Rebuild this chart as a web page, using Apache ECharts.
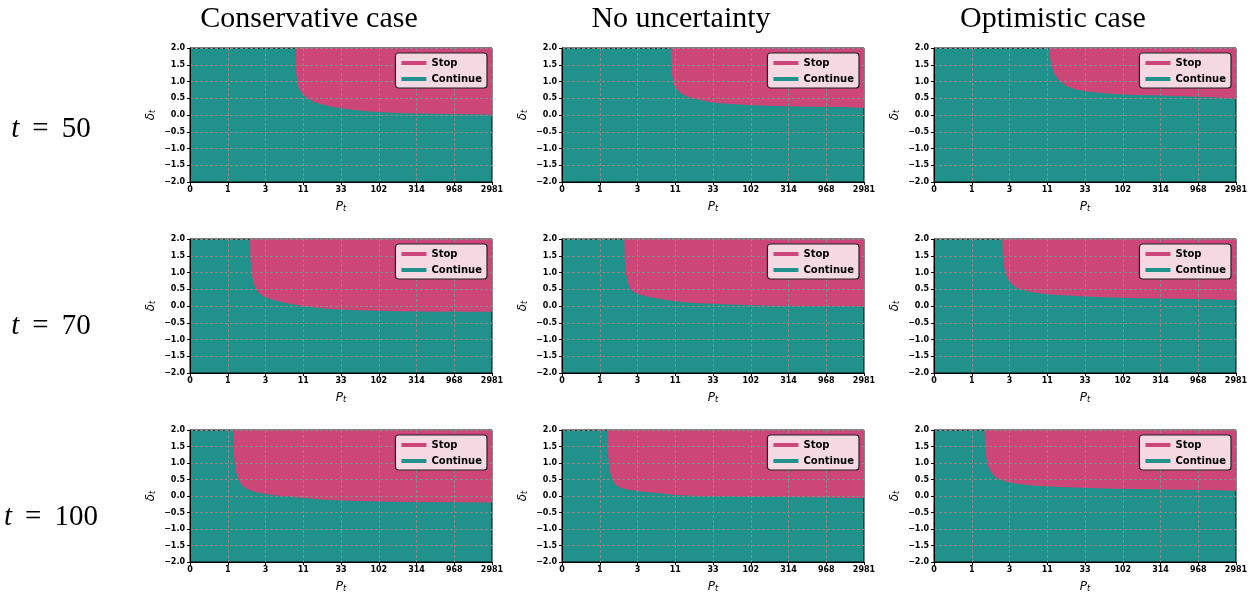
<!DOCTYPE html>
<html>
<head>
<meta charset="utf-8">
<script src="https://cdn.jsdelivr.net/npm/echarts@6/dist/echarts.min.js"></script>
<style>html,body{margin:0;padding:0;background:#fff;}#c{width:1254px;height:594px;}</style>
</head>
<body>
<div id="c"></div>
<script>
// ---- data ----
const xTickLabels = ['0', '1', '3', '11', '33', '102', '314', '968', '2981'];
const columnTitles = ['Conservative case', 'No uncertainty', 'Optimistic case'];
const rowTimes = ['50', '70', '100'];
// stop-region lower boundary [P index, delta] per panel (stop above boundary)
const cons50 = [[2.80,2.0],[2.81,1.3],[2.84,1.0],[2.88,0.82],[2.95,0.68],[3.02,0.58],[3.15,0.47],[3.3,0.38],[3.5,0.31],[3.75,0.25],[4.0,0.2],[4.4,0.14],[4.85,0.1],[5.5,0.06],[6.5,0.04],[7.5,0.02],[8,0.01]];
const unc50  = [[2.88,2.0],[2.9,1.3],[2.93,1.1],[2.97,0.9],[3.03,0.78],[3.12,0.67],[3.25,0.58],[3.4,0.52],[3.6,0.46],[3.8,0.41],[4.1,0.36],[4.5,0.33],[5.0,0.29],[5.7,0.27],[6.5,0.25],[7.4,0.24],[8,0.21]];
const opt50  = [[3.05,2.0],[3.08,1.65],[3.13,1.4],[3.2,1.2],[3.3,1.05],[3.42,0.93],[3.55,0.84],[3.75,0.76],[4.0,0.71],[4.3,0.67],[4.75,0.63],[5.3,0.6],[6.0,0.58],[6.6,0.56],[7.4,0.53],[8,0.48]];
const cons70 = [[1.59,2.0],[1.6,1.4],[1.63,1.0],[1.68,0.7],[1.75,0.5],[1.85,0.36],[2.0,0.26],[2.2,0.18],[2.45,0.11],[2.8,0.04],[3.1,-0.02],[3.6,-0.08],[4.4,-0.13],[5.5,-0.16],[6.5,-0.17],[8,-0.17]];
const unc70  = [[1.65,2.0],[1.66,1.4],[1.69,1.0],[1.74,0.7],[1.8,0.52],[1.9,0.41],[2.05,0.34],[2.25,0.28],[2.6,0.21],[3.0,0.14],[3.5,0.09],[4.3,0.05],[5.5,0.01],[6.5,0.0],[8,-0.01]];
const opt70  = [[1.81,2.0],[1.82,1.5],[1.85,1.2],[1.9,0.95],[1.97,0.78],[2.05,0.66],[2.2,0.54],[2.4,0.46],[2.65,0.4],[3.0,0.35],[3.5,0.31],[4.3,0.27],[5.5,0.23],[7.0,0.21],[8,0.18]];
const cons100 = [[1.15,2.0],[1.16,1.4],[1.18,1.0],[1.22,0.72],[1.28,0.5],[1.37,0.33],[1.5,0.22],[1.7,0.13],[1.95,0.07],[2.4,0.0],[2.9,-0.05],[3.6,-0.11],[4.4,-0.15],[5.7,-0.18],[8,-0.2]];
const unc100  = [[1.2,2.0],[1.21,1.4],[1.24,1.0],[1.28,0.7],[1.33,0.5],[1.42,0.34],[1.55,0.25],[1.75,0.19],[2.15,0.13],[2.6,0.08],[3.0,0.03],[3.6,0.0],[4.8,-0.02],[6.6,-0.04],[8,-0.06]];
const opt100  = [[1.34,2.0],[1.35,1.5],[1.38,1.2],[1.43,0.92],[1.5,0.74],[1.58,0.62],[1.72,0.51],[1.9,0.44],[2.15,0.38],[2.6,0.32],[3.2,0.28],[3.9,0.25],[4.8,0.22],[6.1,0.2],[7.4,0.18],[8,0.15]];
const panels = [cons50, unc50, opt50, cons70, unc70, opt70, cons100, unc100, opt100];

// ---- layout / style ----
const TEAL = '#21918c', PINK = '#cc4778';
const colLeft = [190, 562, 934], rowTop = [48, 239, 430];
const PW = 302, PH = 134, W = 1254;
const grids = [], xAxes = [], yAxes = [], series = [], legends = [], graphics = [];
const labelFont = { fontFamily: 'DejaVu Sans', fontWeight: 'bold', fontSize: 8, color: '#000' };
const gridLine = { show: true, lineStyle: { color: '#8a8a8a', type: [3, 2], width: 1 } };

panels.forEach((bd, i) => {
  const r = Math.floor(i / 3), c = i % 3;
  grids.push({ left: colLeft[c], top: rowTop[r], width: PW, height: PH, show: true,
    backgroundColor: TEAL, borderColor: '#000', borderWidth: 1, containLabel: false });
  xAxes.push({ gridIndex: i, type: 'value', min: 0, max: 8, interval: 1, z: 3,
    axisLine: { show: true, onZero: false, lineStyle: { color: '#000', width: 1 } },
    axisTick: { show: true, length: 3, lineStyle: { color: '#000' } },
    axisLabel: Object.assign({ margin: 4, formatter: v => xTickLabels[Math.round(v)] }, labelFont),
    splitLine: gridLine,
    name: '{p|P}{s|t}', nameLocation: 'middle', nameGap: 17,
    nameTextStyle: { rich: {
      p: { fontFamily: 'DejaVu Sans', fontStyle: 'italic', fontSize: 12, color: '#000', lineHeight: 14, verticalAlign: 'bottom' },
      s: { fontFamily: 'DejaVu Sans', fontStyle: 'italic', fontSize: 8, color: '#000', lineHeight: 8, padding: [7, 0, 0, 0], verticalAlign: 'bottom' } } }
  });
  yAxes.push({ gridIndex: i, type: 'value', min: -2, max: 2, interval: 0.5, z: 3,
    axisLine: { show: true, onZero: false, lineStyle: { color: '#000', width: 1 } },
    axisTick: { show: true, length: 3, lineStyle: { color: '#000' } },
    axisLabel: Object.assign({ margin: 5, formatter: v => (v < 0 ? '\u2212' : '') + Math.abs(v).toFixed(1) }, labelFont),
    splitLine: gridLine,
    name: '{d|δ}{s|t}', nameLocation: 'middle', nameGap: 33, nameRotate: 90,
    nameTextStyle: { rich: {
      d: { fontFamily: 'DejaVu Sans', fontStyle: 'italic', fontSize: 12, color: '#000', lineHeight: 14, verticalAlign: 'bottom' },
      s: { fontFamily: 'DejaVu Sans', fontStyle: 'italic', fontSize: 8, color: '#000', lineHeight: 8, padding: [7, 0, 0, 0], verticalAlign: 'bottom' } } }
  });
  series.push({ name: 'Stop', type: 'line', xAxisIndex: i, yAxisIndex: i, data: bd,
    showSymbol: false, symbol: 'none', color: PINK, silent: true, z: 2,
    lineStyle: { width: 0, opacity: 0 }, areaStyle: { origin: 'end', color: PINK, opacity: 1 } });
  series.push({ name: 'Continue', type: 'line', xAxisIndex: i, yAxisIndex: i, data: [],
    color: TEAL, showSymbol: false, symbol: 'none' });
  legends.push({ orient: 'vertical', right: W - (colLeft[c] + PW) + 5, top: rowTop[r] + 5, z: 10,
    selectedMode: false, icon: 'rect', itemWidth: 25, itemHeight: 4, itemGap: 4,
    backgroundColor: '#f4d9e3', borderColor: '#222', borderWidth: 1.2, borderRadius: 3,
    padding: [4, 5, 3, 6],
    textStyle: { fontFamily: 'DejaVu Sans', fontWeight: 'bold', fontSize: 10, color: '#000', lineHeight: 12 },
    data: [ { name: 'Stop', itemStyle: { color: PINK, opacity: 1, borderWidth: 0, borderColor: 'transparent' } },
            { name: 'Continue', itemStyle: { color: TEAL, opacity: 1, borderWidth: 0, borderColor: 'transparent' } } ] });
});

const titleCenters = [309, 681, 1053];
columnTitles.forEach((t, k) => graphics.push({ type: 'text', x: titleCenters[k], y: 19,
  style: { text: t, align: 'center', verticalAlign: 'middle', fill: '#000',
    font: '30px "Liberation Serif"' } }));
const rowCenters = [129, 326, 517];
rowTimes.forEach((t, k) => graphics.push({ type: 'text', x: 51, y: rowCenters[k],
  style: { text: '{it|t} \u2009=\u2009 ' + t, align: 'center', verticalAlign: 'middle', fill: '#000',
    font: '29px "Liberation Serif"',
    rich: { it: { fontFamily: 'Liberation Serif', fontStyle: 'italic', fontSize: 29, fill: '#000' } } } }));

const chart = echarts.init(document.getElementById('c'), null, { renderer: 'canvas' });
chart.setOption({ animation: false, backgroundColor: '#fff', grid: grids, xAxis: xAxes, yAxis: yAxes,
  series: series, legend: legends, graphic: graphics });
</script>
</body>
</html>
